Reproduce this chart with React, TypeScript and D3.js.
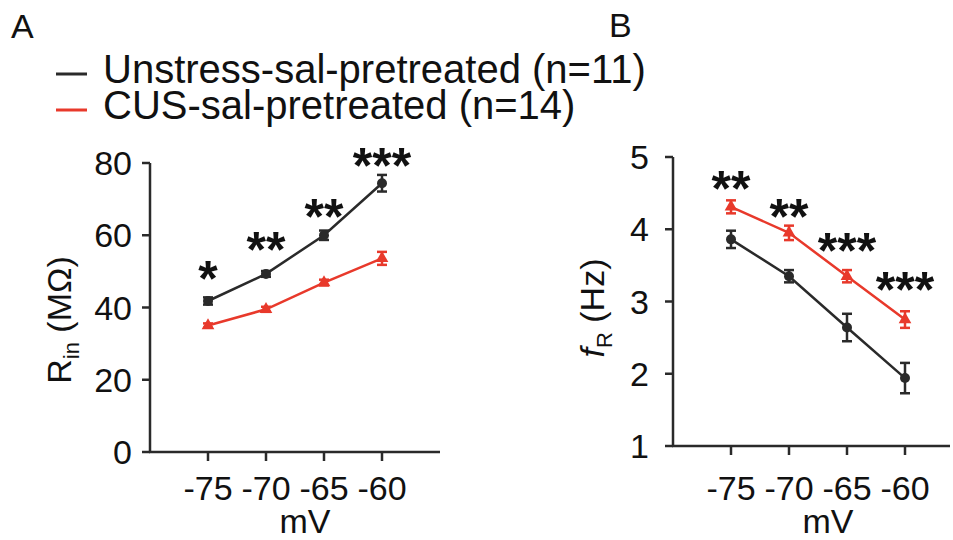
import React from "react";
import * as d3 from "d3";

const mV = [-75, -70, -65, -60];
const xTickLabels = ["-75", "-70", "-65", "-60"];

const rinUnstress = [41.8, 49.3, 60.0, 74.4];
const rinUnstressErr = [1.0, 0.8, 1.3, 2.3];
const rinCUS = [35.0, 39.5, 46.9, 53.6];
const rinCUSErr = [0.6, 0.7, 0.8, 1.8];
const rinTicks = [0, 20, 40, 60, 80];
const rinStars = ["*", "**", "**", "***"];
const rinStarLevel = [51.2, 59.2, 68.4, 82.5];

const frUnstress = [3.86, 3.35, 2.64, 1.94];
const frUnstressErr = [0.12, 0.085, 0.19, 0.21];
const frCUS = [4.31, 3.95, 3.35, 2.75];
const frCUSErr = [0.09, 0.1, 0.085, 0.115];
const frTicks = [1, 2, 3, 4, 5];
const frStars = ["**", "**", "***", "***"];
const frStarLevel = [4.72, 4.34, 3.87, 3.33];

const legendLabels = ["Unstress-sal-pretreated (n=11)", "CUS-sal-pretreated (n=14)"];

const BLACK = "#2a2a2a";
const RED = "#e8392b";
const FONT = "Liberation Sans, Arial, sans-serif";

type PanelProps = {
  x0: number; x1: number; axisEnd: number; yBottom: number; yTop: number;
  yDomain: [number, number]; yTicks: number[]; labelGap: number;
  black: number[]; blackErr: number[]; red: number[]; redErr: number[];
  stars: string[]; starLevel: number[];
};

function Panel(p: PanelProps) {
  const x = d3.scaleLinear().domain([-80, -55]).range([p.x0, p.x1]);
  const y = d3.scaleLinear().domain(p.yDomain).range([p.yBottom, p.yTop]);
  const line = d3.line<number>().x((_, i) => x(mV[i])).y((d) => y(d));
  const tri = d3.symbol().type(d3.symbolTriangle).size(70)();
  const series = [
    { v: p.black, e: p.blackErr, c: BLACK, m: "circle" },
    { v: p.red, e: p.redErr, c: RED, m: "tri" },
  ];
  const ax = p.x0;
  const tickCenter = (x(mV[0]) + x(mV[3])) / 2;
  return (
    <g>
      <line x1={ax} x2={ax} y1={y(p.yDomain[1])} y2={p.yBottom + 1} stroke={BLACK} strokeWidth={2.5} />
      <line x1={ax - 1} x2={p.axisEnd} y1={p.yBottom} y2={p.yBottom} stroke={BLACK} strokeWidth={2.5} />
      {p.yTicks.map((t) => (
        <g key={"yt" + t}>
          <line x1={ax - 8} x2={ax} y1={y(t)} y2={y(t)} stroke={BLACK} strokeWidth={2.5} />
          <text x={ax - p.labelGap} y={y(t) + 12} textAnchor="end" fontSize={34} fontFamily={FONT} fill="#111">{t}</text>
        </g>
      ))}
      {mV.map((m, i) => (
        <g key={"xt" + m}>
          <line x1={x(m)} x2={x(m)} y1={p.yBottom} y2={p.yBottom + 9} stroke={BLACK} strokeWidth={2.5} />
          <text x={x(m)} y={500} textAnchor="middle" fontSize={34} fontFamily={FONT} fill="#111">{xTickLabels[i]}</text>
        </g>
      ))}
      <text x={tickCenter + 10} y={533} textAnchor="middle" fontSize={34} fontFamily={FONT} fill="#111">mV</text>
      {series.map((s, si) => (
        <g key={"s" + si}>
          <path d={line(s.v) || ""} fill="none" stroke={s.c} strokeWidth={2.5} />
          {s.v.map((v, i) => {
            const cx = x(mV[i]);
            const yt = y(v + s.e[i]);
            const yb = y(v - s.e[i]);
            return (
              <g key={i}>
                <line x1={cx} x2={cx} y1={yt} y2={yb} stroke={s.c} strokeWidth={2.5} />
                <line x1={cx - 5} x2={cx + 5} y1={yt} y2={yt} stroke={s.c} strokeWidth={2.5} />
                <line x1={cx - 5} x2={cx + 5} y1={yb} y2={yb} stroke={s.c} strokeWidth={2.5} />
                {s.m === "circle" ? (
                  <circle cx={cx} cy={y(v)} r={5} fill={s.c} />
                ) : (
                  <path d={tri || ""} transform={`translate(${cx},${y(v)})`} fill={s.c} />
                )}
              </g>
            );
          })}
        </g>
      ))}
      {p.stars.map((s, i) => (
        <text key={"st" + i} x={x(mV[i])} y={y(p.starLevel[i]) + 29} textAnchor="middle" fontSize={50} fontWeight="bold" fontFamily={FONT} fill="#111">{s}</text>
      ))}
    </g>
  );
}

export default function App() {
  return (
    <svg width={953} height={540} style={{ position: "absolute", left: 0, top: 0, background: "#fff" }}>
      <rect width={953} height={540} fill="#fff" />
      <text x={11} y={38} fontSize={34} fontFamily={FONT} fill="#111">A</text>
      <text x={609} y={37} fontSize={34} fontFamily={FONT} fill="#111">B</text>
      {legendLabels.map((l, i) => (
        <g key={l}>
          <line x1={56} x2={87} y1={74 + i * 36} y2={74 + i * 36} stroke={i === 0 ? BLACK : RED} strokeWidth={3} />
          <text x={103} y={83 + i * 36} fontSize={40} fontFamily={FONT} fill="#111">{l}</text>
        </g>
      ))}
      <Panel x0={150} x1={440} axisEnd={440} yBottom={452} yTop={163} yDomain={[0, 80]} yTicks={rinTicks} labelGap={18}
        black={rinUnstress} blackErr={rinUnstressErr} red={rinCUS} redErr={rinCUSErr}
        stars={rinStars} starLevel={rinStarLevel} />
      <Panel x0={673} x1={963} axisEnd={950} yBottom={446} yTop={157} yDomain={[1, 5]} yTicks={frTicks} labelGap={24}
        black={frUnstress} blackErr={frUnstressErr} red={frCUS} redErr={frCUSErr}
        stars={frStars} starLevel={frStarLevel} />
      <text transform="translate(71,320) rotate(-90)" textAnchor="middle" fontSize={34} fontFamily={FONT} fill="#111">
        R<tspan fontSize={22} dy={8}>in</tspan><tspan dy={-8}> (MΩ)</tspan>
      </text>
      <text transform="translate(604,308) rotate(-90)" textAnchor="middle" fontSize={34} fontFamily={FONT} fill="#111">
        <tspan fontStyle="italic">f</tspan><tspan fontSize={22} dy={8}>R</tspan><tspan dy={-8}> (Hz)</tspan>
      </text>
    </svg>
  );
}
